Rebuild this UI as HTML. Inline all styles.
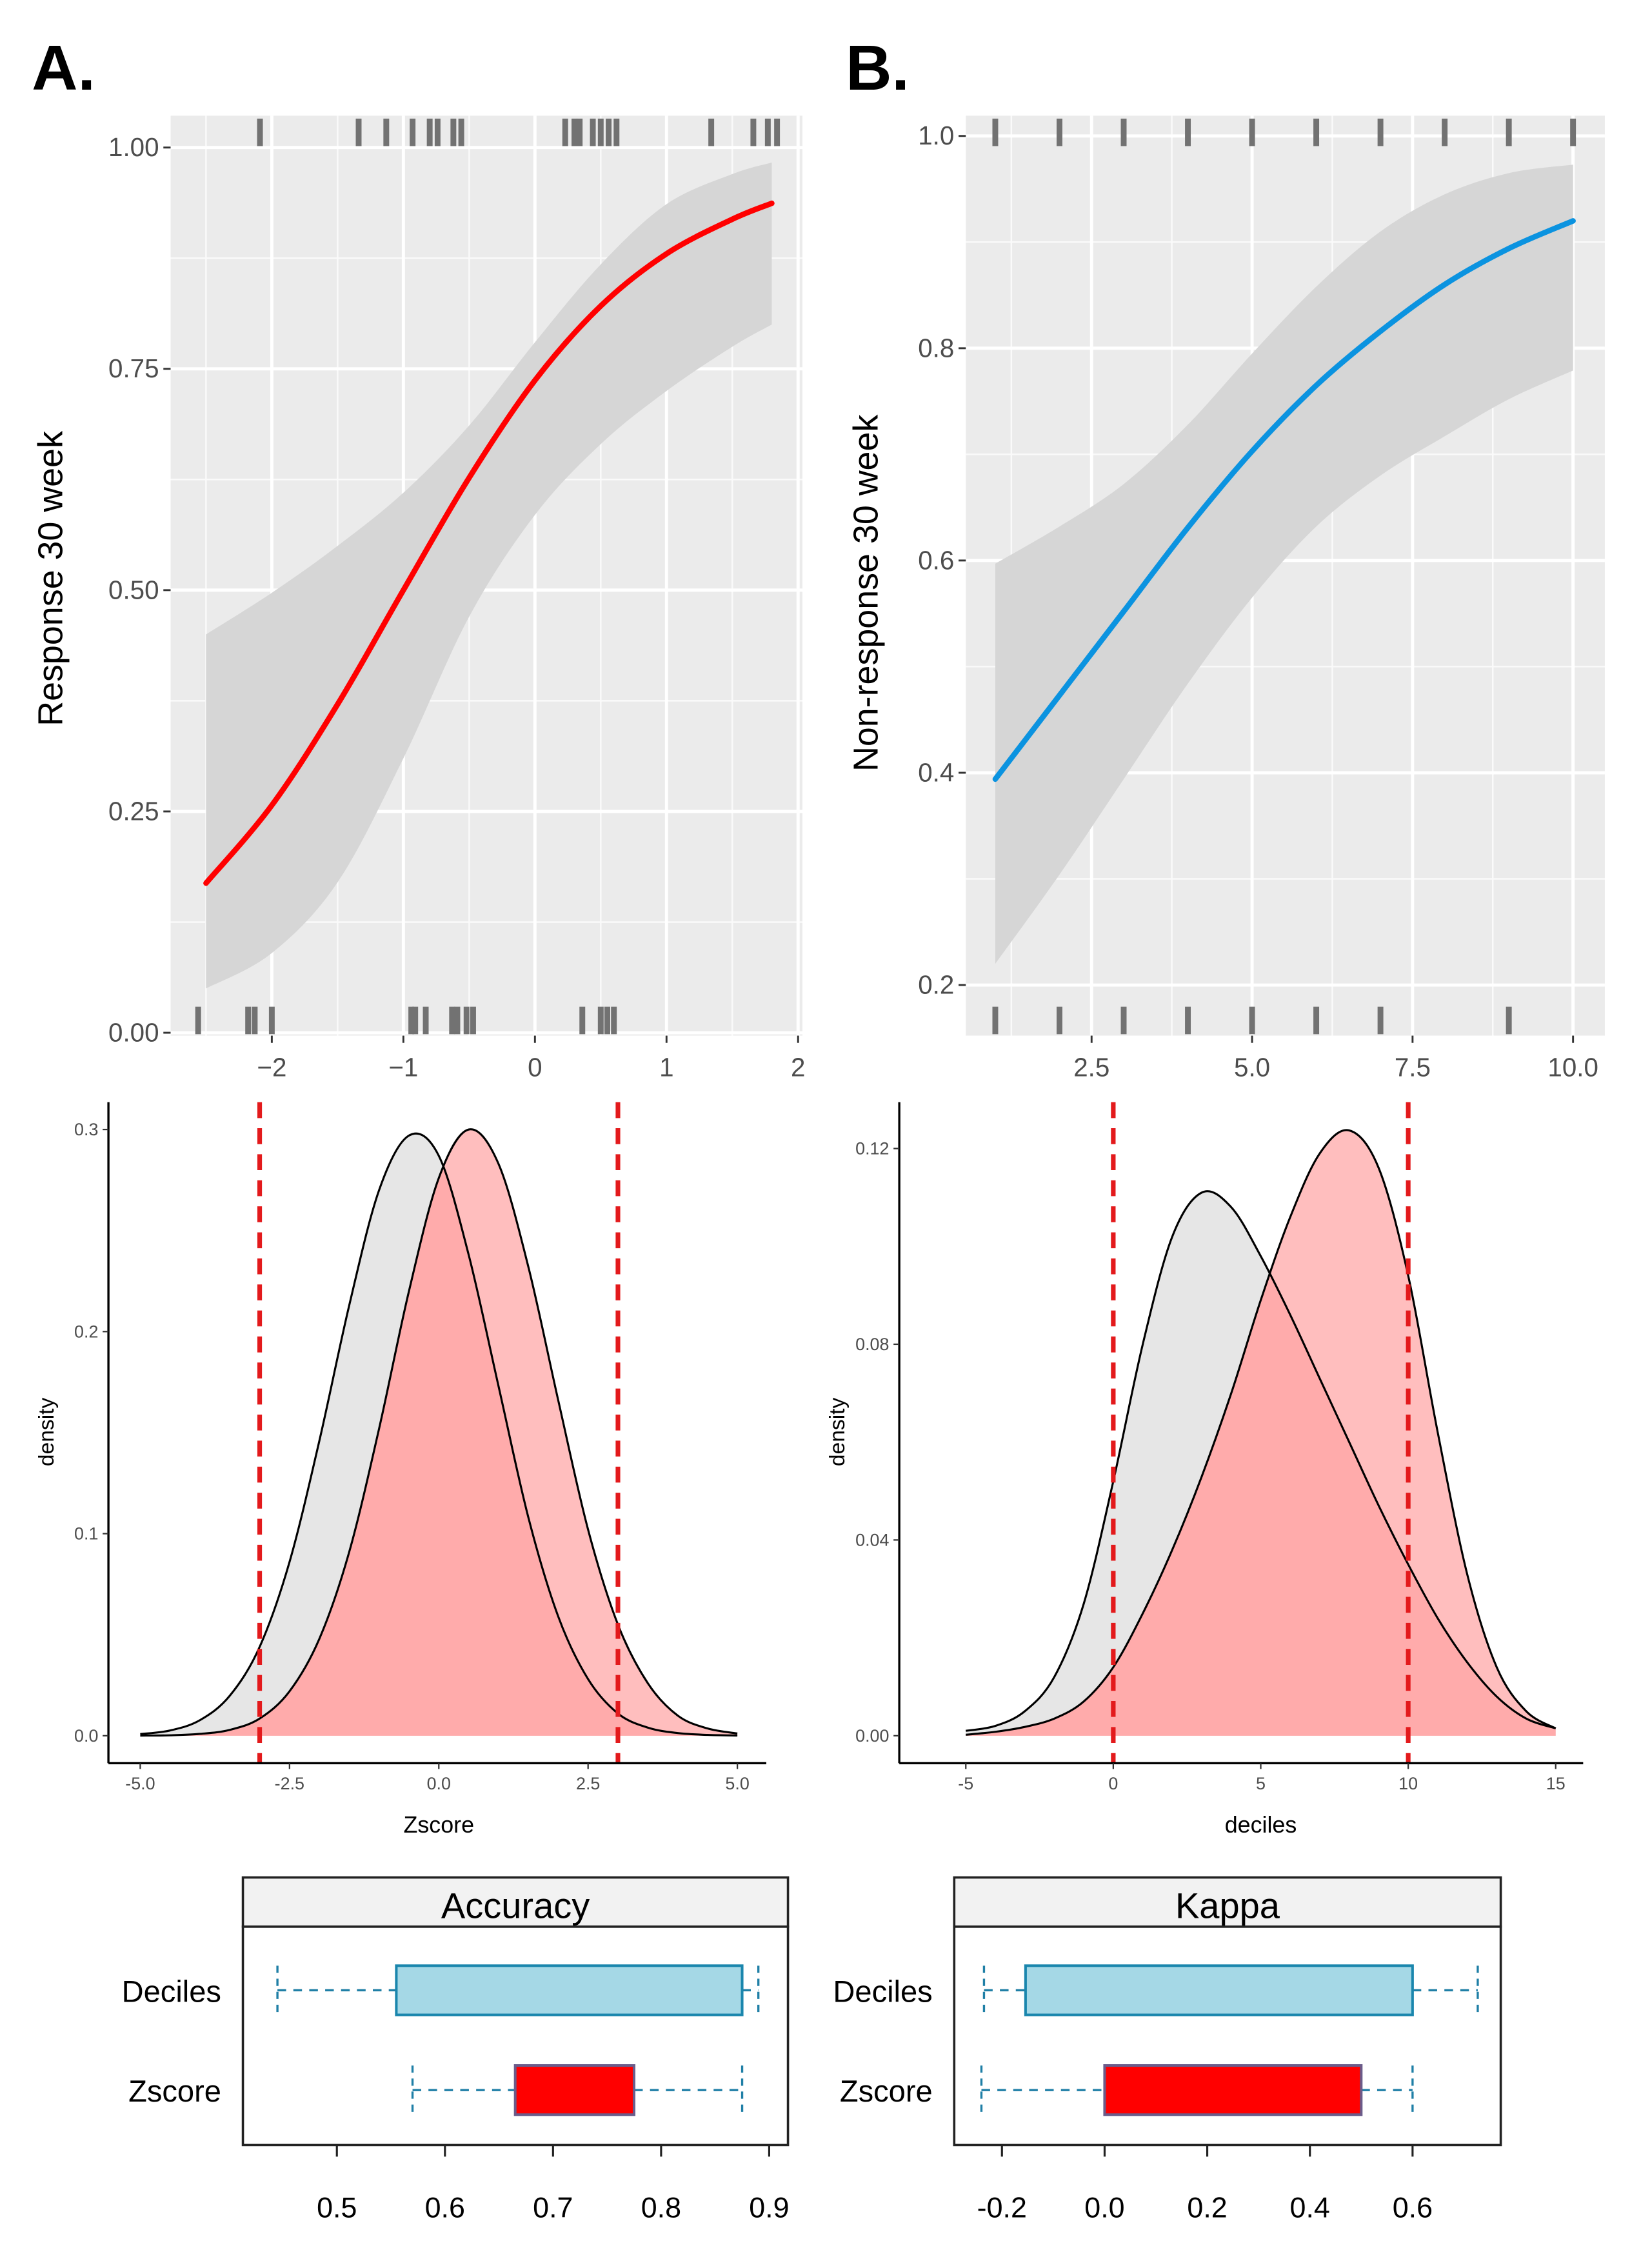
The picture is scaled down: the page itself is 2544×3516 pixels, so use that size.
<!DOCTYPE html>
<html><head><meta charset="utf-8"><style>
html,body{margin:0;padding:0;background:#fff;}
svg{display:block;font-family:"Liberation Sans",sans-serif;}
</style></head><body>
<svg id="fig" width="2544" height="3516" viewBox="0 0 1135 1568" preserveAspectRatio="none" xmlns="http://www.w3.org/2000/svg"></svg>
<script>
// ---------- Panel A logistic ----------
const aX = [-2.5,-2,-1.5,-1,-0.5,0,0.5,1,1.5,1.8];
const aFit = [0.169,0.257,0.371,0.5,0.627,0.737,0.821,0.88,0.919,0.937];
const aLow = [0.05,0.09,0.17,0.31,0.47,0.585,0.665,0.725,0.775,0.80];
const aHigh = [0.45,0.497,0.55,0.61,0.686,0.78,0.868,0.936,0.97,0.983];
const aRugTop = [-2.09,-1.34,-1.13,-0.93,-0.8,-0.74,-0.62,-0.56,0.23,0.3,0.34,0.44,0.5,0.56,0.62,1.34,1.66,1.77,1.84];
const aRugBot = [-2.56,-2.18,-2.13,-2.0,-0.94,-0.91,-0.83,-0.63,-0.59,-0.52,-0.47,0.36,0.5,0.55,0.6];
const aXTicks = [-2,-1,0,1,2];
const aYTicks = [0,0.25,0.5,0.75,1];
const aYLabels = ["0.00","0.25","0.50","0.75","1.00"];
// ---------- Panel B logistic ----------
const bX = [1,2,3,4,5,6,7,8,9,10];
const bFit = [0.394,0.473,0.552,0.631,0.703,0.765,0.816,0.86,0.894,0.92];
const bLow = [0.22,0.304,0.394,0.484,0.565,0.632,0.68,0.717,0.752,0.779];
const bHigh = [0.597,0.632,0.672,0.728,0.795,0.858,0.91,0.945,0.965,0.973];
const bRugTop = [1,2,3,4,5,6,7,8,9,10];
const bRugBot = [1,2,3,4,5,6,7,9];
const bXTicks = [2.5,5,7.5,10];
const bXLabels = ["2.5","5.0","7.5","10.0"];
const bYTicks = [0.2,0.4,0.6,0.8,1.0];
const bYLabels = ["0.2","0.4","0.6","0.8","1.0"];
// ---------- Density A ----------
const dAx = [-5,-4.5,-4,-3.5,-3,-2.5,-2,-1.5,-1,-0.5,0,0.5,1,1.5,2,2.5,3,3.5,4,4.5,5];
const dAgray = [0.0008,0.0026,0.0077,0.0198,0.044,0.086,0.146,0.213,0.27,0.297,0.287,0.238,0.173,0.108,0.059,0.028,0.011,0.004,0.0013,0.0004,0.0001];
const dAred = [0.00005,0.0002,0.0009,0.0029,0.0085,0.022,0.048,0.091,0.152,0.22,0.276,0.30,0.283,0.232,0.166,0.102,0.055,0.026,0.010,0.0036,0.0011];
const dAVlines = [-3,3];
const dAXTicks = [-5,-2.5,0,2.5,5];
const dAXLabels = ["-5.0","-2.5","0.0","2.5","5.0"];
const dAYTicks = [0,0.1,0.2,0.3];
const dAYLabels = ["0.0","0.1","0.2","0.3"];
// ---------- Density B ----------
const dBx = [-5,-4,-3,-2,-1,0,1,2,3,4,5,6,7,8,9,10,11,12,13,14,15];
const dBgray = [0.001,0.002,0.005,0.012,0.027,0.052,0.080,0.102,0.111,0.108,0.098,0.086,0.073,0.060,0.047,0.035,0.024,0.015,0.008,0.0035,0.0015];
const dBred = [0.0002,0.0008,0.0018,0.0035,0.007,0.014,0.025,0.038,0.053,0.070,0.089,0.106,0.119,0.1237,0.116,0.094,0.062,0.033,0.014,0.005,0.0015];
const dBVlines = [0,10];
const dBXTicks = [-5,0,5,10,15];
const dBXLabels = ["-5","0","5","10","15"];
const dBYTicks = [0,0.04,0.08,0.12];
const dBYLabels = ["0.00","0.04","0.08","0.12"];
// ---------- Boxplots ----------
const boxCats = ["Deciles","Zscore"];
const accWhiskLo = [0.445,0.57];
const accQ1 = [0.555,0.665];
const accQ3 = [0.875,0.775];
const accWhiskHi = [0.89,0.875];
const accTicks = [0.5,0.6,0.7,0.8,0.9];
const accLabels = ["0.5","0.6","0.7","0.8","0.9"];
const kapWhiskLo = [-0.235,-0.24];
const kapQ1 = [-0.154,0.0];
const kapQ3 = [0.6,0.5];
const kapWhiskHi = [0.727,0.6];
const kapTicks = [-0.2,0,0.2,0.4,0.6];
const kapLabels = ["-0.2","0.0","0.2","0.4","0.6"];

const svg = document.getElementById('fig');
const NS = "http://www.w3.org/2000/svg";
function el(tag, attrs, parent, txt){
  const e = document.createElementNS(NS, tag);
  for (const k in attrs) e.setAttribute(k, attrs[k]);
  if (txt !== undefined) e.textContent = txt;
  (parent||svg).appendChild(e);
  return e;
}
function smooth(pts){
  let d = "M"+pts[0][0]+","+pts[0][1];
  for (let i=0;i<pts.length-1;i++){
    const p0=pts[Math.max(i-1,0)],p1=pts[i],p2=pts[i+1],p3=pts[Math.min(i+2,pts.length-1)];
    const c1=[p1[0]+(p2[0]-p0[0])/6,p1[1]+(p2[1]-p0[1])/6];
    const c2=[p2[0]-(p3[0]-p1[0])/6,p2[1]-(p3[1]-p1[1])/6];
    d+=" C"+c1[0]+","+c1[1]+" "+c2[0]+","+c2[1]+" "+p2[0]+","+p2[1];
  }
  return d;
}
function smoothCont(pts){ return smooth(pts).replace(/^M/,"L"); }

let t;
t = el('text',{x:22,y:62,'font-size':44,'font-weight':'bold',fill:'#000'},svg,'A.');
 
t = el('text',{x:585,y:62,'font-size':44,'font-weight':'bold',fill:'#000'},svg,'B.');
 

function logisticPanel(o){
  const g = el('g',{});
  
  
  const bg = el('rect',{x:o.x0,y:o.y0,width:o.x1-o.x0,height:o.y1-o.y0,fill:'#ebebeb'},g);
  
  
  o.minorX.forEach(v=>el('line',{x1:o.sx(v),x2:o.sx(v),y1:o.y0,y2:o.y1,stroke:'#fafafa','stroke-width':1.1},g));
  o.minorY.forEach(v=>el('line',{x1:o.x0,x2:o.x1,y1:o.sy(v),y2:o.sy(v),stroke:'#fafafa','stroke-width':1.1},g));
  o.xt.forEach(v=>el('line',{x1:o.sx(v),x2:o.sx(v),y1:o.y0,y2:o.y1,stroke:'#fff','stroke-width':2.2},g));
  o.yt.forEach(v=>el('line',{x1:o.x0,x2:o.x1,y1:o.sy(v),y2:o.sy(v),stroke:'#fff','stroke-width':2.2},g));
  const up = o.X.map((x,i)=>[o.sx(x),o.sy(o.hi[i])]);
  const lo = o.X.map((x,i)=>[o.sx(x),o.sy(o.lo[i])]).reverse();
  const band = el('path',{d:smooth(up)+" L"+lo[0][0]+","+lo[0][1]+" "+smoothCont(lo).slice(1)+" Z",fill:'#d6d6d6'},g);
  
  
  const line = el('path',{d:smooth(o.X.map((x,i)=>[o.sx(x),o.sy(o.fit[i])])),fill:'none',stroke:o.color,'stroke-width':3.8,'stroke-linecap':'round'},g);
  
  
  o.rugTop.forEach(v=>{
    const r = el('rect',{x:o.sx(v)-2,y:o.y0+2,width:4,height:19,fill:'#727272'},g);
    
    
  });
  o.rugBot.forEach(v=>{
    const r = el('rect',{x:o.sx(v)-2,y:o.y1-20,width:4,height:19,fill:'#727272'},g);
    
    
  });
  o.yt.forEach((v,i)=>{
    el('line',{x1:o.x0-5,x2:o.x0,y1:o.sy(v),y2:o.sy(v),stroke:'#333','stroke-width':1.3},g);
    const tl = el('text',{x:o.x0-8,y:o.sy(v)+6,'text-anchor':'end','font-size':18,fill:'#4d4d4d'},g,o.ylab[i]);
    
    
  });
  o.xt.forEach((v,i)=>{
    el('line',{x1:o.sx(v),x2:o.sx(v),y1:o.y1,y2:o.y1+5,stroke:'#333','stroke-width':1.3},g);
    const tl = el('text',{x:o.sx(v),y:o.y1+28,'text-anchor':'middle','font-size':18,fill:'#4d4d4d'},g,o.xlab[i]);
    
    
  });
  const yt = el('text',{x:0,y:0,'text-anchor':'middle','font-size':24,fill:'#000',transform:`translate(${o.ytx},${o.yty}) rotate(-90)`},g,o.ytitle);
  
  
}
logisticPanel({name:'panel-a-logistic',x0:118,x1:555,y0:80,y1:716,
  sx:x=>370+91*x, sy:v=>714-612*v, X:aX, fit:aFit, lo:aLow, hi:aHigh, color:'#ff0000',
  xt:aXTicks, xlab:["\u22122","\u22121","0","1","2"], yt:aYTicks, ylab:aYLabels,
  minorX:[-2.5,-1.5,-0.5,0.5,1.5], minorY:[0.125,0.375,0.625,0.875],
  rugTop:aRugTop, rugBot:aRugBot, ytitle:'Response 30 week', ytx:43, yty:400});
logisticPanel({name:'panel-b-logistic',x0:668,x1:1110,y0:80,y1:716,
  sx:x=>755+(x-2.5)*44.4, sy:v=>681-(v-0.2)*733.75, X:bX, fit:bFit, lo:bLow, hi:bHigh, color:'#0b93e0',
  xt:bXTicks, xlab:bXLabels, yt:bYTicks, ylab:bYLabels,
  minorX:[1.25,3.75,6.25,8.75], minorY:[0.3,0.5,0.7,0.9],
  rugTop:bRugTop, rugBot:bRugBot, ytitle:'Non-response 30 week', ytx:607, yty:410});

let clipN = 0;
function densityPanel(o){
  const g = el('g',{});
  
  
  const gp = o.X.map((x,i)=>[o.sx(x),o.sy(o.gray[i])]);
  const rp = o.X.map((x,i)=>[o.sx(x),o.sy(o.red[i])]);
  const base = o.sy(0);
  const gd = smooth(gp)+` L${gp[gp.length-1][0]},${base} L${gp[0][0]},${base} Z`;
  const rd = smooth(rp)+` L${rp[rp.length-1][0]},${base} L${rp[0][0]},${base} Z`;
  const cid = 'clipg'+(clipN++);
  const defs = el('defs',{},g);
  const cp = el('clipPath',{id:cid},defs);
  el('path',{d:gd},cp);
  const gf = el('path',{d:gd,fill:'#e6e6e6'},g);
  
  
  const rf = el('path',{d:rd,fill:'#ffbebe'},g);
  
  
  const ov = el('path',{d:rd,fill:'#ffabab','clip-path':`url(#${cid})`},g);
  
  
  el('path',{d:smooth(gp),fill:'none',stroke:'#000','stroke-width':1.4},g);
  const rl = el('path',{d:smooth(rp),fill:'none',stroke:'#000','stroke-width':1.4},g);
  
  
  o.vl.forEach(v=>{
    const l = el('line',{x1:o.sx(v),x2:o.sx(v),y1:o.ya0,y2:o.ya1,stroke:'#e31a1c','stroke-width':3.2,'stroke-dasharray':'11,7'},g);
    
    
  });
  el('line',{x1:o.xa0,x2:o.xa0,y1:o.ya0,y2:o.ya1,stroke:'#000','stroke-width':1.5},g);
  el('line',{x1:o.xa0,x2:o.xa1,y1:o.ya1,y2:o.ya1,stroke:'#000','stroke-width':1.5},g);
  o.yt.forEach((v,i)=>{
    el('line',{x1:o.xa0-4,x2:o.xa0,y1:o.sy(v),y2:o.sy(v),stroke:'#333','stroke-width':1},g);
    const tl = el('text',{x:o.xa0-7,y:o.sy(v)+4,'text-anchor':'end','font-size':12,fill:'#4d4d4d'},g,o.ylab[i]);
    
    
  });
  o.xt.forEach((v,i)=>{
    el('line',{x1:o.sx(v),x2:o.sx(v),y1:o.ya1,y2:o.ya1+4,stroke:'#333','stroke-width':1},g);
    const tl = el('text',{x:o.sx(v),y:o.ya1+18,'text-anchor':'middle','font-size':12,fill:'#4d4d4d'},g,o.xlab[i]);
    
    
  });
  const xt = el('text',{x:o.sx(o.mid),y:o.ya1+48,'text-anchor':'middle','font-size':16,fill:'#000'},g,o.xtitle);
  
  
  const yt = el('text',{x:0,y:0,'text-anchor':'middle','font-size':15,fill:'#000',transform:`translate(${o.xa0-38},990) rotate(-90)`},g,'density');
  
  
}
densityPanel({name:'density-a',X:dAx,gray:dAgray,red:dAred,vl:dAVlines,
  sx:x=>303.5+41.3*x, sy:v=>1200-1397*v, xa0:75, xa1:530, ya0:762, ya1:1219,
  xt:dAXTicks, xlab:dAXLabels, yt:dAYTicks, ylab:dAYLabels, mid:0, xtitle:'Zscore'});
densityPanel({name:'density-b',X:dBx,gray:dBgray,red:dBred,vl:dBVlines,
  sx:x=>770+20.4*x, sy:v=>1200-3383*v, xa0:622, xa1:1095, ya0:762, ya1:1219,
  xt:dBXTicks, xlab:dBXLabels, yt:dBYTicks, ylab:dBYLabels, mid:5, xtitle:'deciles'});

function boxPanel(o){
  const g = el('g',{});
  
  
  el('rect',{x:o.x0,y:1298,width:o.x1-o.x0,height:34,fill:'#f2f2f2',stroke:'#222','stroke-width':1.6},g);
  const st = el('text',{x:(o.x0+o.x1)/2,y:1326,'text-anchor':'middle','font-size':25,fill:'#000'},g,o.title);
  
  
  el('rect',{x:o.x0,y:1332,width:o.x1-o.x0,height:151,fill:'none',stroke:'#222','stroke-width':1.6},g);
  const rows=[1376,1445];
  boxCats.forEach((c,i)=>{
    const y=rows[i];
    const lab = el('text',{x:o.x0-15,y:y+8,'text-anchor':'end','font-size':21,fill:'#000'},g,c);
    
    
    const wc='#1f7fa6';
    el('line',{x1:o.sx(o.wlo[i]),x2:o.sx(o.q1[i]),y1:y,y2:y,stroke:wc,'stroke-width':1.5,'stroke-dasharray':'6,5'},g);
    el('line',{x1:o.sx(o.q3[i]),x2:o.sx(o.whi[i]),y1:y,y2:y,stroke:wc,'stroke-width':1.5,'stroke-dasharray':'6,5'},g);
    el('line',{x1:o.sx(o.wlo[i]),x2:o.sx(o.wlo[i]),y1:y-17,y2:y+17,stroke:wc,'stroke-width':1.5,'stroke-dasharray':'5,4'},g);
    el('line',{x1:o.sx(o.whi[i]),x2:o.sx(o.whi[i]),y1:y-17,y2:y+17,stroke:wc,'stroke-width':1.5,'stroke-dasharray':'5,4'},g);
    const b = el('rect',{x:o.sx(o.q1[i]),y:y-17,width:o.sx(o.q3[i])-o.sx(o.q1[i]),height:34,
      fill:i===0?'#a5d8e6':'#ff0000',stroke:i===0?'#1a86ad':'#6b5c8a','stroke-width':1.8},g);
    
    
  });
  o.ticks.forEach((v,i)=>{
    el('line',{x1:o.sx(v),x2:o.sx(v),y1:1483,y2:1491,stroke:'#222','stroke-width':1.4},g);
    const tl = el('text',{x:o.sx(v),y:1533,'text-anchor':'middle','font-size':20,fill:'#000'},g,o.labels[i]);
    
    
  });
}
boxPanel({name:'boxplot-accuracy',x0:168,x1:545,title:'Accuracy',sx:v=>233+(v-0.5)*747.5,
  wlo:accWhiskLo,q1:accQ1,q3:accQ3,whi:accWhiskHi,ticks:accTicks,labels:accLabels});
boxPanel({name:'boxplot-kappa',x0:660,x1:1038,title:'Kappa',sx:v=>764+v*355,
  wlo:kapWhiskLo,q1:kapQ1,q3:kapQ3,whi:kapWhiskHi,ticks:kapTicks,labels:kapLabels});
</script>
</body></html>
